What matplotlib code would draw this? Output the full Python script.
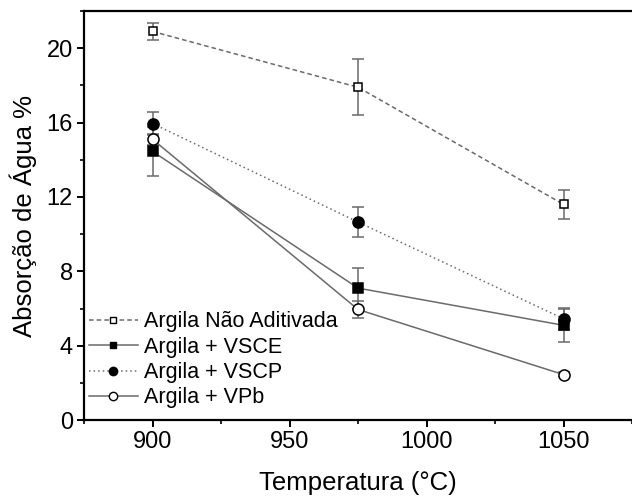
import matplotlib.pyplot as plt
from matplotlib.lines import Line2D
from matplotlib.ticker import MultipleLocator

plt.rcParams['font.family'] = ['Liberation Sans', 'DejaVu Sans']

temperatura = [900, 975, 1050]

nao_aditivada = [20.9, 17.9, 11.6]
nao_aditivada_err = [0.45, 1.5, 0.8]

vsce = [14.45, 7.1, 5.1]
vsce_err = [1.3, 1.1, 0.9]

vscp = [15.95, 10.65, 5.45]
vscp_err = [0.6, 0.8, 0.6]

vpb = [15.1, 5.95, 2.45]
vpb_err = [0.3, 0.45, 0.15]

rotulos = ['Argila Não Aditivada', 'Argila + VSCE', 'Argila + VSCP', 'Argila + VPb']

fig = plt.figure(figsize=(6.32, 4.99), dpi=100)
ax = fig.add_axes([0.133, 0.158, 0.867, 0.82])

cinza = '#6a6a6a'
series = [
    (nao_aditivada, nao_aditivada_err, 's', 'white', (0, (3, 2)), 6),
    (vsce, vsce_err, 's', 'black', '-', 6.5),
    (vscp, vscp_err, 'o', 'black', (0, (1, 2)), 8),
    (vpb, vpb_err, 'o', 'white', '-', 8),
]

handles = []
for (y, e, m, fc, ls, ms), rot in zip(series, rotulos):
    ax.errorbar(temperatura, y, yerr=e, color=cinza, ls=ls, lw=1.1,
                marker=m, mfc=fc, mec='black', mew=1.1, ms=ms,
                ecolor=cinza, elinewidth=1.1, capsize=4, capthick=1.1)
    # legenda sem barras de erro, marcadores menores
    handles.append(Line2D([], [], color=cinza, ls=ls, lw=1.1, marker=m,
                          mfc=fc, mec='black', mew=1.0, ms=ms * 0.75, label=rot))

ax.set_xlim(875, 1075)
ax.set_ylim(0, 22)
ax.xaxis.set_major_locator(MultipleLocator(50))
ax.xaxis.set_minor_locator(MultipleLocator(25))
ax.yaxis.set_major_locator(MultipleLocator(4))
ax.yaxis.set_minor_locator(MultipleLocator(2))

for lado in ['left', 'bottom', 'top']:
    ax.spines[lado].set_linewidth(1.6)
ax.spines['right'].set_visible(False)
ax.tick_params(which='major', direction='out', length=5, width=1.4, labelsize=17, pad=3)
ax.tick_params(which='minor', direction='out', length=3, width=1.2)
ax.tick_params(top=False, right=False, which='both')

ax.set_xlabel('Temperatura (°C)', fontsize=18.5, labelpad=13)
ax.set_ylabel('Absorção de Água %', fontsize=18.5, labelpad=7)

ax.legend(handles=handles, loc='lower left', bbox_to_anchor=(-0.018, -0.008),
          frameon=False, fontsize=15.5, handlelength=2.25, handletextpad=0.3,
          labelspacing=0.2, borderaxespad=0.6, borderpad=0.1)

fig.savefig('out.png', dpi=100)
